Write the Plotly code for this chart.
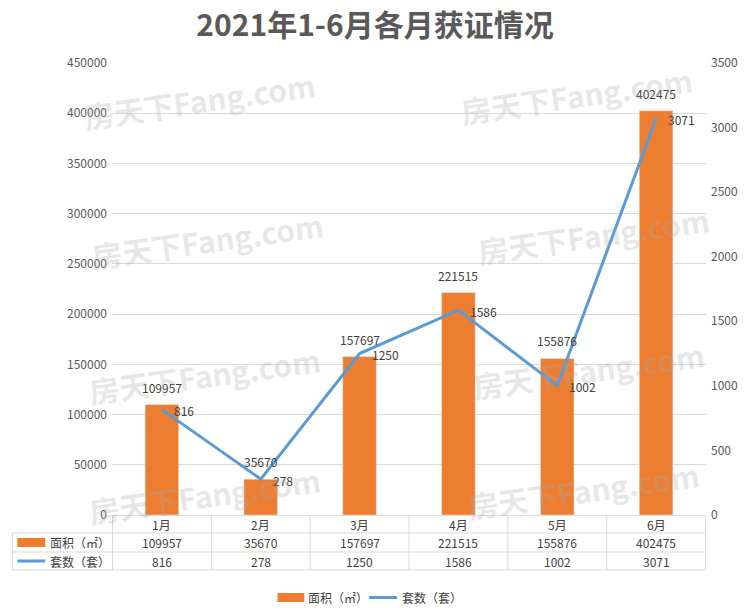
import plotly.graph_objects as go

categories = ["1月", "2月", "3月", "4月", "5月", "6月"]
area = [109957, 35670, 157697, 221515, 155876, 402475]
units = [816, 278, 1250, 1586, 1002, 3071]
area_name = "面积（㎡）"
units_name = "套数（套）"
title = "2021年1-6月各月获证情况"
left_ticks = [0, 50000, 100000, 150000, 200000, 250000, 300000, 350000, 400000, 450000]
right_ticks = [0, 500, 1000, 1500, 2000, 2500, 3000, 3500]

BAR = "#ED7D31"
LINE = "#5B9BD5"
TXT = "#404040"
GRID = "#D9D9D9"
FONT = "Noto Sans CJK SC, Liberation Sans, sans-serif"

W, H = 750, 614
L, R, T, B = 112, 42, 63, 99
pw, ph = W - L - R, H - T - B

def py(pix):  # pixel y -> paper y
    return (H - B - pix) / ph

def px(pix):
    return (pix - L) / pw

fig = go.Figure()
fig.add_trace(go.Bar(
    x=categories, y=area, name=area_name, marker_color=BAR, showlegend=False,
))
fig.add_trace(go.Scatter(
    x=categories, y=units, name=units_name, yaxis="y2", mode="lines",
    line=dict(color=LINE, width=3), showlegend=False,
))

shapes = []
ann = []
# value labels
for c, v in zip(categories, area):
    ann.append(dict(xref="x", yref="y", x=c, y=v, text=str(v), showarrow=False, yanchor="bottom",
                    yshift=7, font=dict(size=12, color=TXT, family=FONT)))
for c, v in zip(categories, units):
    ann.append(dict(xref="x", yref="y2", x=c, y=v, text=str(v), showarrow=False, xanchor="left",
                    yanchor="middle", xshift=10, yshift=-1, font=dict(size=12, color=TXT, family=FONT)))

# table grid
n = len(categories)
for yy in [533, 552, 570]:
    shapes.append(dict(type="line", xref="paper", yref="paper", x0=px(12), x1=1, y0=py(yy), y1=py(yy),
                       line=dict(color=GRID, width=1)))
for i in range(n + 1):
    shapes.append(dict(type="line", xref="x", yref="paper", x0=i - 0.5, x1=i - 0.5, y0=py(515), y1=py(570),
                       line=dict(color=GRID, width=1)))
shapes.append(dict(type="line", xref="paper", yref="paper", x0=px(12), x1=px(12), y0=py(533), y1=py(570),
                   line=dict(color=GRID, width=1)))
# legend keys in table
shapes.append(dict(type="rect", xref="paper", yref="paper", x0=px(17), x1=px(45), y0=py(538), y1=py(547),
                   fillcolor=BAR, line=dict(width=0)))
shapes.append(dict(type="line", xref="paper", yref="paper", x0=px(17), x1=px(45), y0=py(561), y1=py(561),
                   line=dict(color=LINE, width=3)))
ann.append(dict(xref="paper", yref="paper", x=px(48), y=py(542.5), text=area_name, showarrow=False,
                xanchor="left", yanchor="middle", font=dict(size=12, color=TXT, family=FONT)))
ann.append(dict(xref="paper", yref="paper", x=px(48), y=py(561), text=units_name, showarrow=False,
                xanchor="left", yanchor="middle", font=dict(size=12, color=TXT, family=FONT)))
for i, c in enumerate(categories):
    ann.append(dict(xref="x", yref="paper", x=c, y=py(524), text=c, showarrow=False,
                    yanchor="middle", font=dict(size=12, color=TXT, family=FONT)))
    ann.append(dict(xref="x", yref="paper", x=c, y=py(542.5), text=str(area[i]), showarrow=False,
                    yanchor="middle", font=dict(size=12, color=TXT, family=FONT)))
    ann.append(dict(xref="x", yref="paper", x=c, y=py(561), text=str(units[i]), showarrow=False,
                    yanchor="middle", font=dict(size=12, color=TXT, family=FONT)))

# bottom legend (custom, wide keys)
shapes.append(dict(type="rect", xref="paper", yref="paper", x0=px(278), x1=px(305), y0=py(593), y1=py(602),
                   fillcolor=BAR, line=dict(width=0)))
ann.append(dict(xref="paper", yref="paper", x=px(307), y=py(597.5), text=area_name, showarrow=False,
                xanchor="left", yanchor="middle", font=dict(size=12, color=TXT, family=FONT)))
shapes.append(dict(type="line", xref="paper", yref="paper", x0=px(370), x1=px(398), y0=py(597.5), y1=py(597.5),
                   line=dict(color=LINE, width=3)))
ann.append(dict(xref="paper", yref="paper", x=px(401), y=py(597.5), text=units_name, showarrow=False,
                xanchor="left", yanchor="middle", font=dict(size=12, color=TXT, family=FONT)))

# watermarks
wm = [(200, 100), (578, 95), (208, 240), (595, 235), (205, 375), (590, 370), (205, 495), (585, 490)]
for (wx, wy) in wm:
    ann.append(dict(xref="paper", yref="paper", x=px(wx), y=py(wy), text="<b>房天下Fang.com</b>",
                    xanchor="center", yanchor="middle",
                    showarrow=False, textangle=-8, font=dict(size=30, color="rgba(170,170,170,0.28)",
                                                          family="Noto Sans CJK SC, sans-serif")))

fig.update_layout(
    width=W, height=H,
    margin=dict(l=L, r=R, t=T, b=B),
    paper_bgcolor="white", plot_bgcolor="white",
    showlegend=False,
    title=dict(text="<b>" + title + "</b>", x=0.5, xanchor="center", y=1 - 25 / H, yanchor="middle",
               font=dict(size=30, color="#595959", family=FONT)),
    bargap=0.66,
    xaxis=dict(showticklabels=False, showgrid=False, showline=True, linecolor=GRID, ticks="",
               zeroline=False, fixedrange=True),
    yaxis=dict(range=[0, 450000], tickvals=left_ticks, tickformat="d", showgrid=True, gridcolor=GRID,
               zeroline=False, tickfont=dict(size=12, color="#595959", family=FONT), ticks="",
               ticklabelstandoff=4, showline=False),
    yaxis2=dict(range=[0, 3500], tickvals=right_ticks, tickformat="d", overlaying="y", side="right",
                showgrid=False, zeroline=False, tickfont=dict(size=12, color="#595959", family=FONT),
                ticks="", ticklabelstandoff=4),
    shapes=shapes, annotations=ann,
)
fig.write_html("out.html", config={"displayModeBar": False},
               post_script="document.body.style.margin='0px';")
